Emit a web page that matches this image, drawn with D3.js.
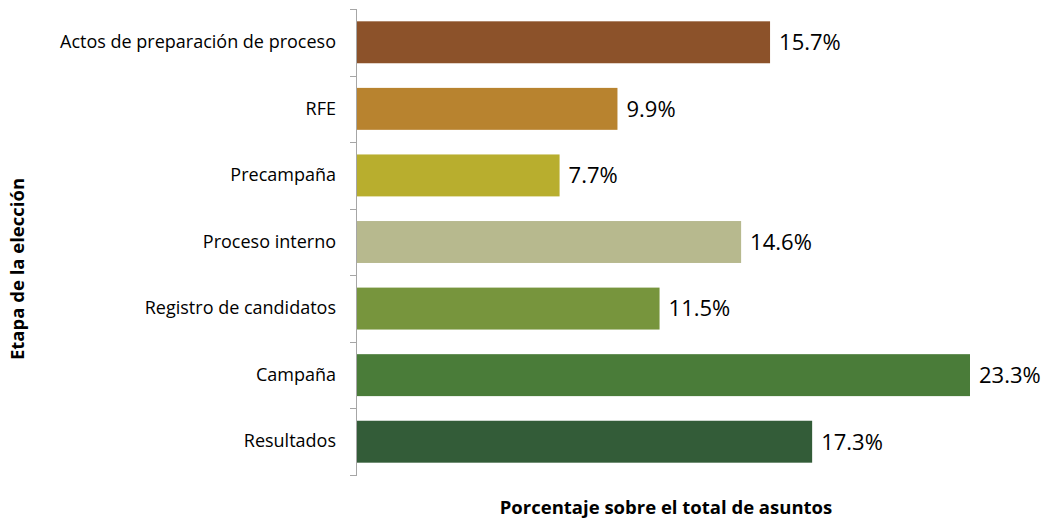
<!DOCTYPE html>
<html>
<head>
<meta charset="utf-8">
<script src="https://cdn.jsdelivr.net/npm/d3@7"></script>
<style>
  body { margin: 0; background: #fff; }
</style>
</head>
<body>
<div id="chart"></div>
<script>
// Data
const categories = [
  "Actos de preparación de proceso",
  "RFE",
  "Precampaña",
  "Proceso interno",
  "Registro de candidatos",
  "Campaña",
  "Resultados"
];
const values = [15.7, 9.9, 7.7, 14.6, 11.5, 23.3, 17.3];
const barColors = ["#8C522A", "#B8832F", "#B8AE2E", "#B7B98E", "#77953D", "#4A7C39", "#335C38"];

const xTitle = "Porcentaje sobre el total de asuntos";
const yTitle = "Etapa de la elección";

const width = 1048;
const height = 522;
const marginTop = 9;
const marginBottom = 47;
const marginLeft = 357;
const fontFamily = "'Open Sans', 'Noto Sans', sans-serif";

const data = categories.map((c, i) => ({label: c, value: values[i], color: barColors[i]}));

const x = d3.scaleLinear()
  .domain([0, 23.3])
  .range([marginLeft, 970]);

const y = d3.scaleBand()
  .domain(categories)
  .range([marginTop, height - marginBottom])
  .paddingInner(0.37)
  .paddingOuter(0.185);

const svg = d3.select("#chart").append("svg")
  .attr("width", width)
  .attr("height", height)
  .attr("viewBox", [0, 0, width, height])
  .style("font-family", fontFamily);

// bars
svg.append("g")
  .selectAll("rect")
  .data(data)
  .join("rect")
    .attr("x", x(0))
    .attr("y", d => y(d.label))
    .attr("width", d => x(d.value) - x(0))
    .attr("height", y.bandwidth())
    .attr("fill", d => d.color);

// value labels
svg.append("g")
  .attr("font-size", 22)
  .attr("fill", "#000")
  .selectAll("text")
  .data(data)
  .join("text")
    .attr("x", d => x(d.value) + 9)
    .attr("y", d => y(d.label) + y.bandwidth() / 2)
    .attr("dy", "0.36em")
    .text(d => d.value.toFixed(1) + "%");

// category axis, ticks between categories like the original
const boundaries = d3.range(categories.length + 1).map(i => marginTop + i * (height - marginBottom - marginTop) / categories.length);

const axis = svg.append("g");
axis.append("line")
  .attr("x1", marginLeft - 0.5).attr("x2", marginLeft - 0.5)
  .attr("y1", boundaries[0]).attr("y2", boundaries[boundaries.length - 1])
  .attr("stroke", "#a6a6a6");
axis.selectAll(".tk")
  .data(boundaries)
  .join("line")
    .attr("class", "tk")
    .attr("x1", marginLeft - 7).attr("x2", marginLeft)
    .attr("y1", d => Math.round(d) + 0.5).attr("y2", d => Math.round(d) + 0.5)
    .attr("stroke", "#a6a6a6");

svg.append("g")
  .attr("transform", `translate(${marginLeft},0)`)
  .call(d3.axisLeft(y).tickSize(0).tickPadding(21))
  .call(g => g.select(".domain").remove())
  .selectAll("text")
    .attr("font-size", 18)
    .attr("font-family", fontFamily)
    .attr("fill", "#000");

// axis titles
svg.append("text")
  .attr("x", 666)
  .attr("y", 514)
  .attr("text-anchor", "middle")
  .attr("font-size", 18.5)
  .attr("font-weight", "bold")
  .text(xTitle);

svg.append("text")
  .attr("transform", "translate(24,269) rotate(-90)")
  .attr("text-anchor", "middle")
  .attr("font-size", 18.5)
  .attr("font-weight", "bold")
  .text(yTitle);
</script>
</body>
</html>
